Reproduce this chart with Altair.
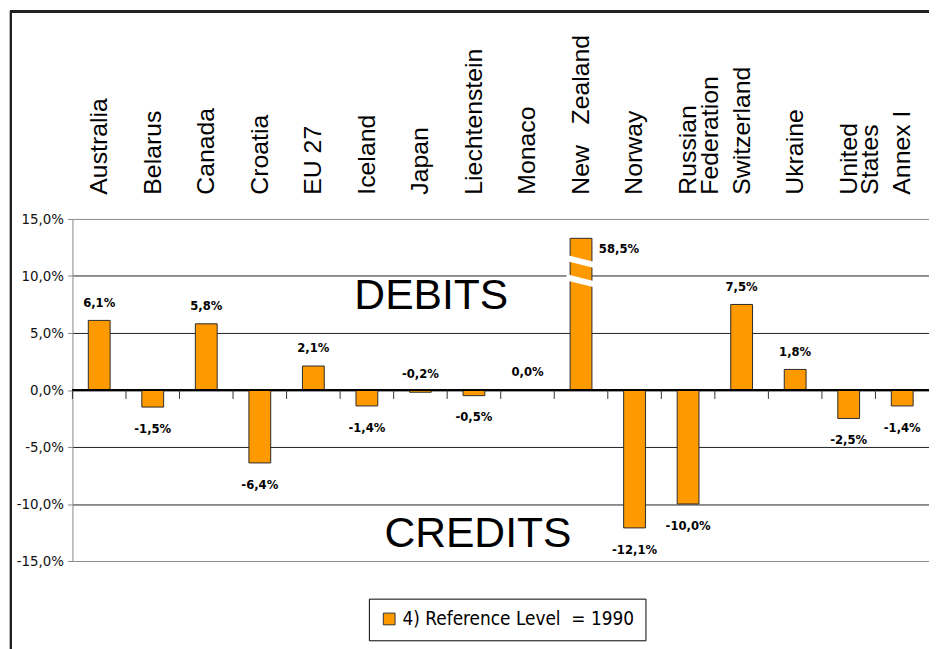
import altair as alt
import pandas as pd

# ---- data ----
categories = ["Australia", "Belarus", "Canada", "Croatia", "EU 27", "Iceland", "Japan",
              "Liechtenstein", "Monaco", "New Zealand", "Norway", "Russian Federation",
              "Switzerland", "Ukraine", "United States", "Annex I"]
tick_labels = ["Australia", "Belarus", "Canada", "Croatia", "EU 27", "Iceland", "Japan",
               "Liechtenstein", "Monaco", "New\u00a0\u00a0 Zealand", "Norway",
               "\u00a0\u00a0Russian|Federation", "Switzerland", "Ukraine", "United|States",
               "Annex I"]
values = [6.1, -1.5, 5.8, -6.4, 2.1, -1.4, -0.2, -0.5, 0.0, 58.5, -12.1, -10.0, 7.5, 1.8, -2.5, -1.4]
series_name = "4) Reference Level\u00a0 = 1990"
y_ticks = [-15, -10, -5, 0, 5, 10, 15]
axis_cap = 13.3            # value where the broken New Zealand bar is cut
break_at = [11.26, 9.56]   # y values of the two white break stripes
notes = ["DEBITS", "CREDITS"]
note_cat = ["Japan", "Liechtenstein"]
note_y = [8.26, -12.65]

FONT = "Liberation Sans, Arial, Helvetica, sans-serif"
NARROW = "Liberation Sans Narrow, Arial Narrow, DejaVu Sans Condensed, Liberation Sans, sans-serif"
ORANGE = "#FF9900"

lab_of = dict(zip(categories, tick_labels))
df = pd.DataFrame({"cat": categories, "label": tick_labels, "value": values, "series": series_name})

PCT = "(datum.value < 0 ? '-' : '') + replace(format(abs(datum.value), '.1f'), '.', ',') + '%'"

base = alt.Chart(df).transform_calculate(
    shown=f"min(datum.value, {axis_cap})",
    txt=PCT,
)

x_enc = alt.X(
    "label:N", sort=None,
    scale=alt.Scale(domain=tick_labels, paddingInner=0, paddingOuter=0),
    axis=alt.Axis(orient="top", title=None, labelAngle=270, labelAlign="left",
                  labelBaseline="middle", labelPadding=25, labelFont=FONT,
                  labelFontSize=25, labelColor="#000", labelLineHeight=22,
                  labelLimit=400, labelExpr="split(datum.label, '|')",
                  domain=False, ticks=False),
)
y_enc = alt.Y(
    "shown:Q",
    scale=alt.Scale(domain=[-15, 15], nice=False, zero=False),
    axis=alt.Axis(title=None, values=y_ticks, labelExpr=PCT, grid=True,
                  gridColor={"condition": {"test": "abs(datum.value) == 15", "value": "#8a8a8a"},
                             "value": "#222222"},
                  gridWidth=1, domainColor="#888888", tickColor="#888888", tickSize=5,
                  labelFont=NARROW, labelFontSize=15, labelColor="#111111", labelPadding=4),
)

bars = base.mark_bar(width=22, stroke="#2a2a2a", strokeWidth=1).encode(
    x=x_enc,
    y=y_enc,
    color=alt.Color(
        "series:N",
        scale=alt.Scale(domain=[series_name], range=[ORANGE]),
        legend=alt.Legend(orient="none", legendX=299, legendY=383, title=None,
                          strokeColor="#000000", fillColor="#ffffff", padding=11,
                          labelFont=NARROW, labelFontSize=19, labelColor="#000000",
                          symbolType="square", symbolSize=140, symbolStrokeColor="#333333",
                          symbolStrokeWidth=1, labelOffset=4, labelLimit=400),
    ),
)

zero_line = alt.Chart(df).mark_rule(color="#000000", strokeWidth=1).encode(y=alt.datum(0))

sep_ticks = alt.Chart(df).mark_rule(color="#333333", strokeWidth=1, y2Offset=9).encode(
    x=alt.X("label:N", sort=None, bandPosition=0),
    y=alt.datum(0),
    y2=alt.datum(0),
)

lab_above = base.transform_filter(f"datum.value >= -0.3 && datum.value <= {axis_cap}").mark_text(
    font=NARROW, fontWeight="bold", fontSize=13, dy=-18, baseline="middle", color="#000"
).encode(x=alt.X("label:N", sort=None), y=alt.Y("shown:Q"), text="txt:N")

lab_below = base.transform_filter("datum.value < -0.3").mark_text(
    font=NARROW, fontWeight="bold", fontSize=13, dy=22, baseline="middle", color="#000"
).encode(x=alt.X("label:N", sort=None), y=alt.Y("shown:Q"), text="txt:N")

lab_broken = base.transform_filter(f"datum.value > {axis_cap}").mark_text(
    font=NARROW, fontWeight="bold", fontSize=13, dx=18, dy=11, align="left",
    baseline="middle", color="#000"
).encode(x=alt.X("label:N", sort=None), y=alt.Y("shown:Q"), text="txt:N")

brk_df = pd.DataFrame({"label": [lab_of["New Zealand"]] * len(break_at), "yb": break_at})
breaks = alt.Chart(brk_df).mark_point(
    shape="M -1 -0.25 L 1 0.25", size=900, filled=False, color="#ffffff",
    strokeWidth=6, opacity=1
).encode(x=alt.X("label:N", sort=None), y=alt.Y("yb:Q"))

note_df = pd.DataFrame({"label": [lab_of[c] for c in note_cat], "yn": note_y, "t": notes})
note_debits = alt.Chart(note_df).transform_filter("datum.t == 'DEBITS'").mark_text(
    font=FONT, fontSize=43, dx=11, baseline="middle", color="#000"
).encode(x=alt.X("label:N", sort=None), y=alt.Y("yn:Q"), text="t:N")
note_credits = alt.Chart(note_df).transform_filter("datum.t == 'CREDITS'").mark_text(
    font=FONT, fontSize=43, dx=4, baseline="middle", color="#000"
).encode(x=alt.X("label:N", sort=None), y=alt.Y("yn:Q"), text="t:N")

frame_top = alt.Chart(df).mark_rule(color="#222222", strokeWidth=2).encode(
    x=alt.value(-62), x2=alt.value(864), y=alt.value(-209))
frame_left = alt.Chart(df).mark_rule(color="#222222", strokeWidth=2).encode(
    x=alt.value(-62), y=alt.value(-210), y2=alt.value(440))

chart = alt.layer(
    frame_top, frame_left, bars, zero_line, sep_ticks, breaks,
    lab_above, lab_below, lab_broken, note_debits, note_credits,
).properties(
    width=864, height=345,
    autosize=alt.AutoSizeParams(type="none"),
    padding={"left": 65, "top": 210, "right": 0, "bottom": 86},
).configure_view(stroke=None)

chart.save("out.html", embed_options={"renderer": "svg", "actions": False})
